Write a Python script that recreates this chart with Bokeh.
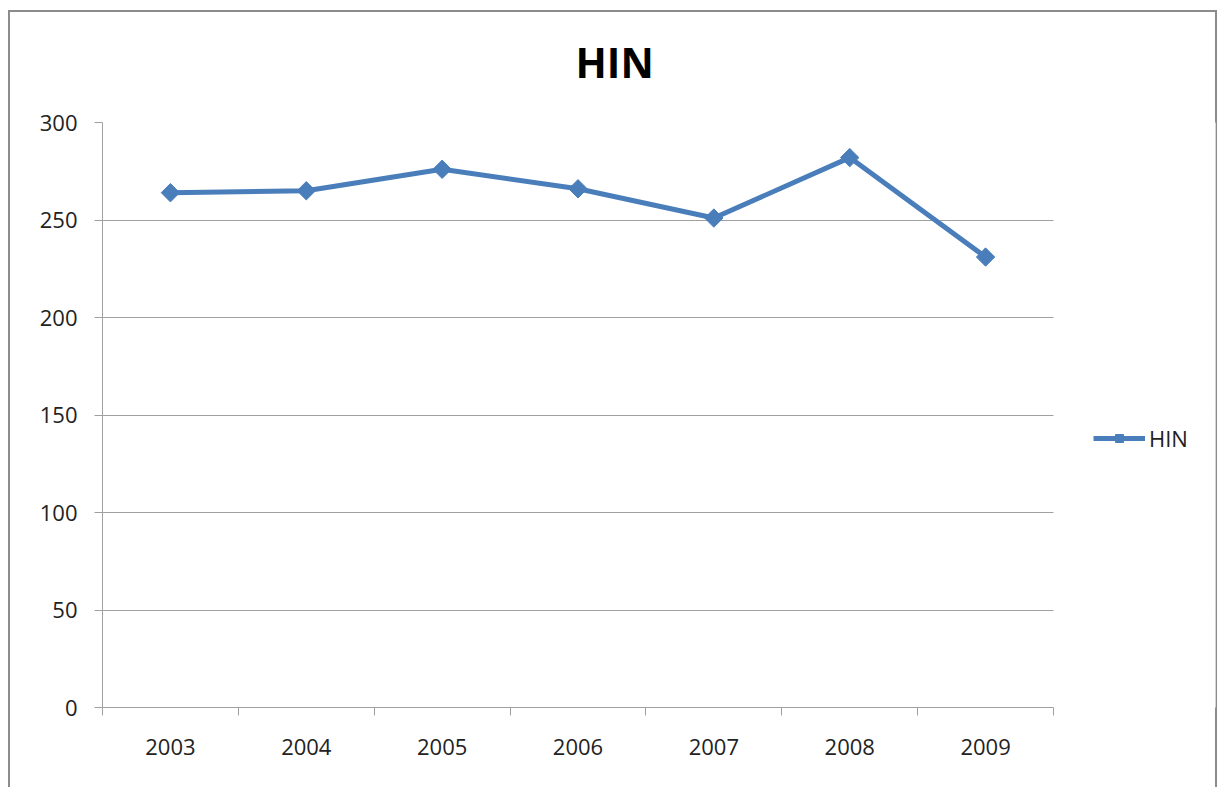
import math
from bokeh.plotting import figure
from bokeh.models import FixedTicker, Legend, LegendItem, Range1d, BoxAnnotation
from bokeh.embed import file_html
from bokeh.resources import INLINE

years = ["2003", "2004", "2005", "2006", "2007", "2008", "2009"]
hin = [264, 265, 276, 266, 251, 282, 231]
y_ticks = [0, 50, 100, 150, 200, 250, 300]

n = len(years)
xpos = [i + 0.5 for i in range(n)]
bounds = list(range(n + 1))

FONT = "Open Sans"
BLUE = "#4A7EBB"
GRAY = "#a0a0a0"
EDGE = "#8c8c8c"

# layout (pixels)
W, H = 1218, 787
LEFT, TOP, BOTTOM, RIGHT = 102, 122, 80, 3
PLOT_PX = 951                      # width of the category area
FRAME_PX = W - LEFT - RIGHT        # frame spans to the chart's right edge
x_end = n * FRAME_PX / PLOT_PX

g = f"linear-gradient({EDGE}, {EDGE})"
chart_border = (f"{g} 8px 10px / 1209px 2px no-repeat, "
                f"{g} 8px 10px / 2px 777px no-repeat, "
                f"{g} 1215px 10px / 2px 777px no-repeat, #ffffff")

p = figure(width=W, height=H, output_backend="svg", toolbar_location=None,
           x_range=Range1d(0, x_end), y_range=Range1d(0, 300),
           min_border_left=LEFT, min_border_right=RIGHT, min_border_top=TOP,
           min_border_bottom=BOTTOM, title="HIN",
           styles={"background": chart_border})

p.title.text_font = FONT
p.title.text_font_style = "bold"
p.title.text_font_size = "41px"
p.title.align = "left"
p.title.vertical_align = "top"
p.title.offset = 473
p.title.text_color = "black"
p.title.standoff = 62

p.outline_line_color = None
p.background_fill_color = "white"
p.border_fill_color = None

l = p.line(xpos, hin, line_width=5, color=BLUE)
s = p.scatter(xpos, hin, marker="square", angle=math.pi / 4, size=13, color=BLUE)

# x axis
xa = p.xaxis[0]
xa.bounds = (0, n)
xa.ticker = FixedTicker(ticks=xpos, minor_ticks=bounds)
xa.major_label_overrides = {x: y for x, y in zip(xpos, years)}
xa.major_tick_out = 0
xa.major_tick_in = 0
xa.minor_tick_out = 8
xa.minor_tick_in = 0
xa.minor_tick_line_color = GRAY
xa.axis_line_color = GRAY
xa.major_label_text_font = FONT
xa.major_label_text_font_size = "22px"
xa.major_label_text_color = "#222222"
xa.major_label_standoff = 23

# y axis
ya = p.yaxis[0]
ya.ticker = FixedTicker(ticks=y_ticks, minor_ticks=[])
ya.major_tick_out = 8
ya.major_tick_in = 0
ya.major_tick_line_color = GRAY
ya.axis_line_color = GRAY
ya.major_label_text_font = FONT
ya.major_label_text_font_size = "22px"
ya.major_label_text_color = "#222222"
ya.major_label_standoff = 17

p.xgrid.visible = False
p.ygrid.grid_line_color = GRAY
p.ygrid.grid_line_width = 1

# blank the area right of the category axis (legend area)
p.add_layout(BoxAnnotation(left=n, fill_color="white", fill_alpha=1.0,
                           line_alpha=0, level="underlay"))

legend = Legend(items=[LegendItem(label="HIN", renderers=[l, s])],
                location=(991, 254), padding=0, margin=0,
                glyph_width=52, glyph_height=20, label_height=20,
                label_standoff=4, border_line_alpha=0, background_fill_alpha=0,
                label_text_font=FONT, label_text_font_size="22px",
                label_text_color="#222222")
p.add_layout(legend, "center")

open("out.html", "w").write(file_html(p, INLINE))
